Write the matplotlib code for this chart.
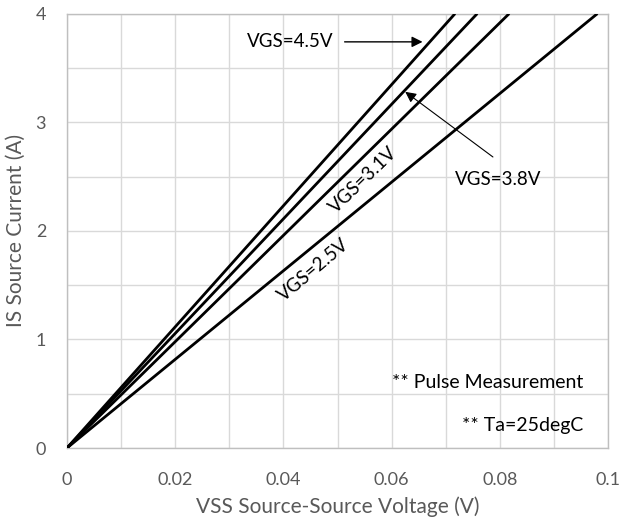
import matplotlib
matplotlib.use('Agg')
from matplotlib import pyplot as plt
from matplotlib.ticker import MultipleLocator

# VSS (V) vs IS (A), straight lines through the origin, clipped at 4 A
vss_45 = [0.0, 0.0717]
is_45 = [0.0, 4.0]
vss_38 = [0.0, 0.0758]
is_38 = [0.0, 4.0]
vss_31 = [0.0, 0.0817]
is_31 = [0.0, 4.0]
vss_25 = [0.0, 0.0980]
is_25 = [0.0, 4.0]

x_ticks = [0, 0.02, 0.04, 0.06, 0.08, 0.1]
x_labels = ['0', '0.02', '0.04', '0.06', '0.08', '0.1']
y_ticks = [0, 1, 2, 3, 4]
y_labels = ['0', '1', '2', '3', '4']

plt.rcParams['font.family'] = ['Lato', 'DejaVu Sans']
grey = '#595959'

fig = plt.figure(figsize=(6.2, 5.24), dpi=100)
ax = fig.add_axes([0.108, 0.145, 0.873, 0.829])

for xs, ys in [(vss_45, is_45), (vss_38, is_38), (vss_31, is_31), (vss_25, is_25)]:
    ax.plot(xs, ys, color='black', lw=2, solid_capstyle='butt', zorder=3)

ax.set_xlim(0, 0.1)
ax.set_ylim(0, 4)
ax.set_xticks(x_ticks)
ax.set_xticklabels(x_labels)
ax.set_yticks(y_ticks)
ax.set_yticklabels(y_labels)
ax.xaxis.set_minor_locator(MultipleLocator(0.01))
ax.yaxis.set_minor_locator(MultipleLocator(0.5))
ax.grid(which='both', color='#d9d9d9', lw=1, zorder=0)
ax.tick_params(which='both', length=0, labelsize=13, colors=grey)
ax.tick_params(axis='x', pad=17)
ax.tick_params(axis='y', pad=15)
for s in ax.spines.values():
    s.set_color('#bfbfbf')
    s.set_linewidth(1)

ax.set_xlabel('VSS Source-Source Voltage (V)', fontsize=15, color=grey, labelpad=6)
ax.set_ylabel('IS Source Current (A)', fontsize=15, color=grey, labelpad=7)

# annotations
ax.text(0.0492, 3.74, 'VGS=4.5V', fontsize=13.5, ha='right', va='center')
ax.annotate('', xy=(0.0657, 3.74), xytext=(0.0513, 3.74),
            arrowprops=dict(arrowstyle='-|>', color='black', lw=1, mutation_scale=16,
                            shrinkA=0, shrinkB=0))
ax.annotate('', xy=(0.0625, 3.28), xytext=(0.0787, 2.68),
            arrowprops=dict(arrowstyle='-|>', color='black', lw=0.8, mutation_scale=16,
                            shrinkA=0, shrinkB=0))
ax.text(0.0797, 2.47, 'VGS=3.8V', fontsize=13.5, ha='center', va='center')
ax.text(0.0547, 2.47, 'VGS=3.1V', fontsize=13.5, ha='center', va='center', rotation=44)
ax.text(0.0455, 1.64, 'VGS=2.5V', fontsize=13.5, ha='center', va='center', rotation=40)
ax.text(0.0954, 0.60, '** Pulse Measurement', fontsize=14, ha='right', va='center')
ax.text(0.0954, 0.21, '** Ta=25degC', fontsize=14, ha='right', va='center')

plt.savefig('out.png', dpi=100)
plt.close()
